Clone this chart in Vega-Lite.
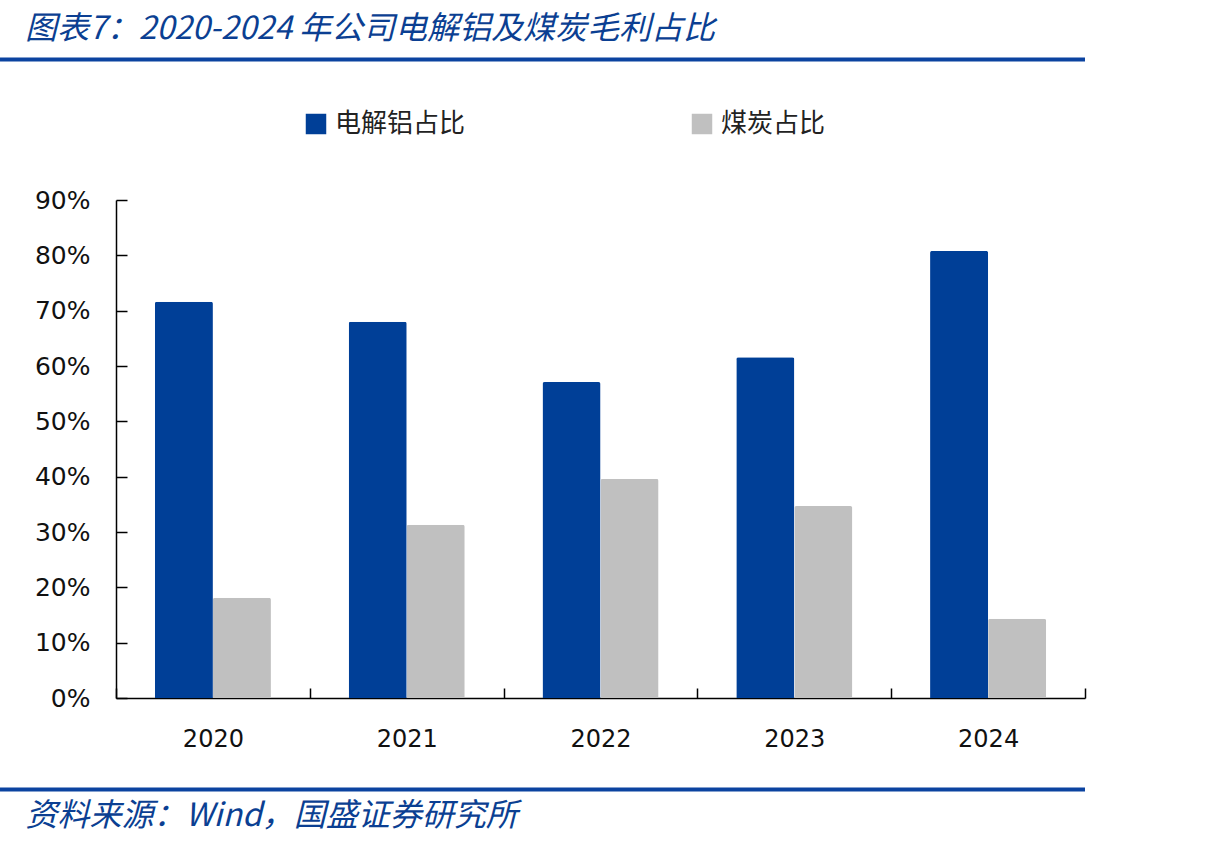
{
  "$schema": "https://vega.github.io/schema/vega-lite/v6.json",
  "width": 969,
  "height": 498,
  "autosize": {"type": "none"},
  "padding": {"left": 116, "top": 200, "right": 120, "bottom": 147},
  "background": "white",
  "config": {"view": {"stroke": null}},
  "title": {
    "text": "图表7：2020-2024 年公司电解铝及煤炭毛利占比",
    "anchor": "start",
    "frame": "group",
    "dx": -91,
    "offset": 11,
    "font": "Noto Sans CJK SC",
    "fontStyle": "italic",
    "fontWeight": "normal",
    "fontSize": 32,
    "color": "#0B3F92"
  },
  "data": {
    "values": [
      {"year": "2020", "series": "电解铝占比", "value": 0.716},
      {"year": "2020", "series": "煤炭占比", "value": 0.181},
      {"year": "2021", "series": "电解铝占比", "value": 0.680},
      {"year": "2021", "series": "煤炭占比", "value": 0.313},
      {"year": "2022", "series": "电解铝占比", "value": 0.571},
      {"year": "2022", "series": "煤炭占比", "value": 0.396},
      {"year": "2023", "series": "电解铝占比", "value": 0.616},
      {"year": "2023", "series": "煤炭占比", "value": 0.347},
      {"year": "2024", "series": "电解铝占比", "value": 0.808},
      {"year": "2024", "series": "煤炭占比", "value": 0.143}
    ]
  },
  "layer": [
    {
      "mark": {"type": "bar", "cornerRadiusTopLeft": 2, "cornerRadiusTopRight": 2},
      "encoding": {
        "x": {
          "field": "year",
          "type": "nominal",
          "scale": {"paddingInner": 0, "paddingOuter": 0},
          "axis": {
            "title": "资料来源：Wind，国盛证券研究所",
            "titleAnchor": "start",
            "titleAlign": "left",
            "titleX": -91,
            "titleY": 102,
            "titleFont": "Noto Sans CJK SC",
            "titleFontStyle": "italic",
            "titleFontWeight": "normal",
            "titleFontSize": 32,
            "titleColor": "#0B3F92",
            "labelAngle": 0,
            "labelFont": "DejaVu Sans",
            "labelFontSize": 24,
            "labelColor": "#111111",
            "labelPadding": 39,
            "tickBand": "extent",
            "tickSize": -10,
            "tickColor": "#000000",
            "domainColor": "#000000",
            "domainWidth": 1.5,
            "tickWidth": 1.5
          }
        },
        "xOffset": {"field": "series", "type": "nominal", "sort": ["电解铝占比", "煤炭占比"], "scale": {"paddingInner": 0, "paddingOuter": 0.67}},
        "y": {
          "field": "value",
          "type": "quantitative",
          "scale": {"domain": [0, 0.9]},
          "axis": {
            "title": null,
            "values": [0, 0.1, 0.2, 0.3, 0.4, 0.5, 0.6, 0.7, 0.8, 0.9],
            "format": ".0%",
            "grid": false,
            "labelFont": "DejaVu Sans",
            "labelFontSize": 25,
            "labelColor": "#111111",
            "labelPadding": 37,
            "tickSize": -11,
            "tickColor": "#000000",
            "tickWidth": 1.5,
            "domainColor": "#000000",
            "domainWidth": 1.5
          }
        },
        "color": {
          "field": "series",
          "type": "nominal",
          "scale": {"domain": ["电解铝占比", "煤炭占比"], "range": ["#003F97", "#C0C0C0"]},
          "legend": {
            "title": null,
            "orient": "none",
            "legendX": 187,
            "legendY": -89,
            "direction": "horizontal",
            "columnPadding": 223,
            "symbolType": "square",
            "symbolSize": 420,
            "symbolStrokeWidth": 0,
            "labelFont": "Noto Sans CJK SC",
            "labelFontSize": 26,
            "labelColor": "#222222",
            "labelOffset": 6
          }
        }
      }
    },
    {
      "data": {"values": [{}]},
      "mark": {"type": "rule", "color": "#0B43A0", "strokeWidth": 4},
      "encoding": {
        "x": {"datum": -0.1197, "type": "quantitative", "scale": {"domain": [0, 1]}, "axis": null},
        "x2": {"datum": 1},
        "y": {"datum": 1.154, "type": "quantitative"}
      }
    },
    {
      "data": {"values": [{}]},
      "mark": {"type": "rule", "color": "#0B43A0", "strokeWidth": 4},
      "encoding": {
        "x": {"datum": -0.1197, "type": "quantitative", "scale": {"domain": [0, 1]}, "axis": null},
        "x2": {"datum": 1},
        "y": {"datum": -0.1654, "type": "quantitative"}
      }
    }
  ],
  "resolve": {"scale": {"x": "independent"}}
}
